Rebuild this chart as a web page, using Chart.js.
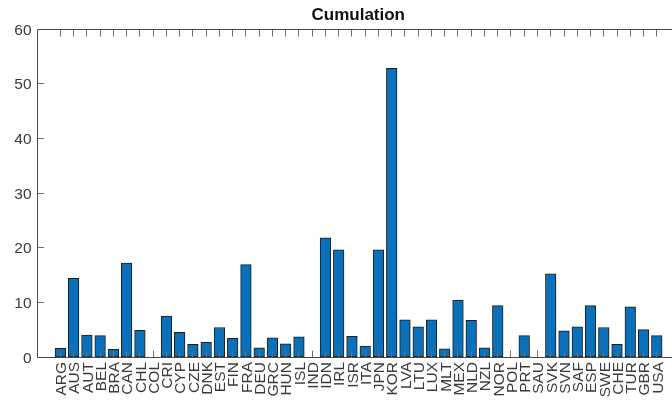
<!DOCTYPE html>
<html>
<head>
<meta charset="utf-8">
<title>Cumulation</title>
<script src="https://cdn.jsdelivr.net/npm/chart.js@4.4.1/dist/chart.umd.min.js"></script>
<style>
  html, body { margin: 0; padding: 0; overflow: hidden; background: #fff; }
  #wrap { width: 680px; height: 404px; }
</style>
</head>
<body>
<div id="wrap"><canvas id="cumChart" width="680" height="404"></canvas></div>
<script>
// Country codes along the x axis
const countries = ['ARG', 'AUS', 'AUT', 'BEL', 'BRA', 'CAN', 'CHL', 'COL', 'CRI', 'CYP',
    'CZE', 'DNK', 'EST', 'FIN', 'FRA', 'DEU', 'GRC', 'HUN', 'ISL', 'IND',
    'IDN', 'IRL', 'ISR', 'ITA', 'JPN', 'KOR', 'LVA', 'LTU', 'LUX', 'MLT',
    'MEX', 'NLD', 'NZL', 'NOR', 'POL', 'PRT', 'SAU', 'SVK', 'SVN', 'SAF',
    'ESP', 'SWE', 'CHE', 'TUR', 'GBR', 'USA'];

// Cumulated value per country
const cumulation = [1.6, 14.4, 4.0, 3.9, 1.4, 17.2, 4.9, 0, 7.5, 4.5,
    2.3, 2.7, 5.4, 3.4, 16.9, 1.7, 3.5, 2.4, 3.7, 0,
    21.8, 19.6, 3.8, 2.0, 19.6, 52.8, 6.8, 5.5, 6.8, 1.5,
    10.4, 6.7, 1.7, 9.4, 0, 3.9, 0, 15.2, 4.8, 5.5,
    9.4, 5.4, 2.3, 9.2, 5.0, 3.9];

// y axis ticks
const yTicks = [0, 10, 20, 30, 40, 50, 60];

const FONT = "'Liberation Sans', Arial, Helvetica, sans-serif";
const AXIS_COLOR = '#4a4a4a';
const TICK_COLOR = '#6e6e6e';
const TEXT_COLOR = '#3a3a3a';
const X_MIN = -0.2;
const X_MAX = 47.15;
const BAR_WIDTH = 0.8; // in x units, like a classic bar plot

// Box around the axes with inward tick marks (drawn over the bars)
const boxPlugin = {
    id: 'boxTicks',
    afterDatasetsDraw(chart) {
        const { ctx, chartArea: a, scales: { x, y } } = chart;
        const crisp = v => Math.floor(v) + 0.5;
        const L = crisp(a.left), R = crisp(a.right), T = crisp(a.top), B = crisp(a.bottom);
        ctx.save();
        ctx.lineWidth = 1;

        ctx.strokeStyle = TICK_COLOR;
        ctx.beginPath();
        x.ticks.forEach(t => {
            const px = crisp(x.getPixelForValue(t.value));
            ctx.moveTo(px, T); ctx.lineTo(px, T + 7);
            ctx.moveTo(px, B); ctx.lineTo(px, B - 7);
        });
        y.ticks.forEach(t => {
            const py = crisp(y.getPixelForValue(t.value));
            ctx.moveTo(L, py); ctx.lineTo(L + 6.5, py);
            ctx.moveTo(R, py); ctx.lineTo(R - 6.5, py);
        });
        ctx.stroke();

        ctx.strokeStyle = AXIS_COLOR;
        ctx.beginPath();
        ctx.moveTo(L, T); ctx.lineTo(R, T); ctx.lineTo(R, B); ctx.lineTo(L, B); ctx.closePath();
        ctx.stroke();
        ctx.restore();
    }
};

// Bar thickness follows the x scale: BAR_WIDTH units wide
const barWidthPlugin = {
    id: 'barWidth',
    afterLayout(chart) {
        const x = chart.scales.x;
        const px = Math.abs(x.getPixelForValue(1 + BAR_WIDTH) - x.getPixelForValue(1));
        const ds = chart.data.datasets[0];
        if (Math.abs((ds.barThickness || 0) - px) > 0.01) {
            ds.barThickness = px;
            chart.update('none');
        }
    }
};

const ctx = document.getElementById('cumChart').getContext('2d');
new Chart(ctx, {
    type: 'bar',
    data: {
        datasets: [{
            label: 'Cumulation',
            data: cumulation.map((v, i) => ({ x: i + 1, y: v })),
            backgroundColor: '#0a70b9',
            borderColor: '#1c1c1c',
            borderWidth: 1,
            borderSkipped: false,
            barThickness: 10.8
        }]
    },
    options: {
        responsive: false,
        animation: false,
        events: [],
        layout: { padding: { left: 0, right: 1, top: 0, bottom: 0 } },
        plugins: {
            legend: { display: false },
            tooltip: { enabled: false },
            title: {
                display: true,
                text: 'Cumulation',
                fullSize: false,
                color: '#111',
                font: { family: FONT, size: 17, weight: 'bold', lineHeight: 1.2 },
                padding: { top: 5.6, bottom: 3 }
            }
        },
        scales: {
            x: {
                type: 'linear',
                min: X_MIN,
                max: X_MAX,
                grid: { display: false, drawTicks: false },
                border: { display: false },
                afterBuildTicks: scale => {
                    scale.ticks = countries.map((_, i) => ({ value: i + 1 }));
                },
                afterFit: scale => {
                    scale.height = 47;
                    scale.paddingLeft = 0;
                    scale.paddingRight = 0;
                },
                ticks: {
                    autoSkip: false,
                    minRotation: 90,
                    maxRotation: 90,
                    padding: 5,
                    labelOffset: 1.5,
                    color: TEXT_COLOR,
                    font: { family: FONT, size: 15.5 },
                    callback: value => countries[value - 1]
                }
            },
            y: {
                min: 0,
                max: 60,
                grid: { display: false, drawTicks: false },
                border: { display: false },
                afterBuildTicks: scale => {
                    scale.ticks = yTicks.map(v => ({ value: v }));
                },
                afterFit: scale => {
                    scale.width = 37.5;
                    scale.paddingTop = 0;
                    scale.paddingBottom = 0;
                },
                ticks: {
                    padding: 6,
                    labelOffset: 1.5,
                    color: TEXT_COLOR,
                    font: { family: FONT, size: 15.5 }
                }
            }
        }
    },
    plugins: [boxPlugin, barWidthPlugin]
});
</script>
</body>
</html>
